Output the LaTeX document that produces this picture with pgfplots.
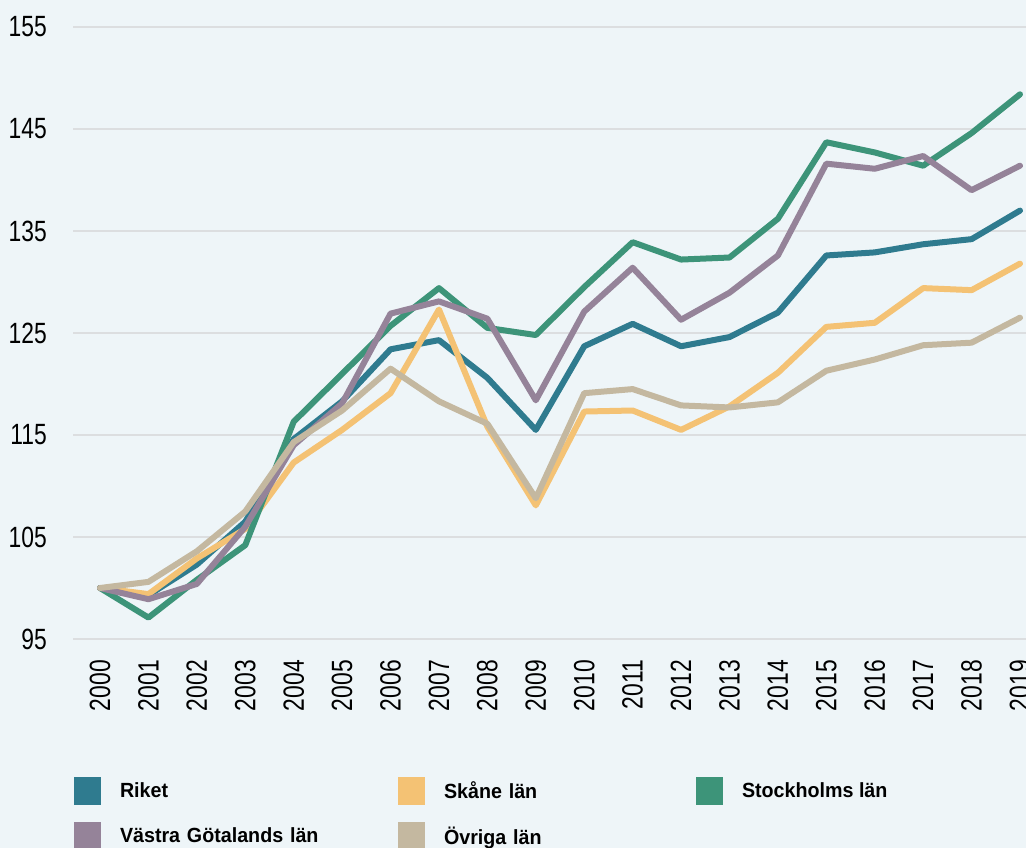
\documentclass[border=0pt]{standalone}
\usepackage{pgfplots}
\pgfplotsset{compat=1.18}
\usepackage{fontspec}
\setmainfont{Liberation Sans}
\newfontfamily\tickfont{Liberation Sans}[FakeStretch=0.78]
\newfontfamily\legfont{Liberation Sans}[FakeStretch=0.96]
\definecolor{bg}{HTML}{EEF5F8}
\definecolor{gridc}{HTML}{DCDEE0}
\definecolor{riket}{HTML}{2F7B8F}
\definecolor{skane}{HTML}{F4C274}
\definecolor{sthlm}{HTML}{3D9479}
\definecolor{vgl}{HTML}{958399}
\definecolor{ovr}{HTML}{C4B8A0}
\pgfplotstableread{
year riket skane sthlm vgl ovr
2000 100   100   100   100    100
2001 99.3  99.4  97.1  98.9   100.6
2002 102.3 102.9 100.8 100.4  103.6
2003 106.5 105.8 104.2 106.0  107.5
2004 114.6 112.3 116.3 114.0  114.3
2005 118.3 115.5 121.0 118.1  117.4
2006 123.4 119.1 125.7 126.9  121.5
2007 124.3 127.3 129.4 128.1  118.3
2008 120.6 115.8 125.5 126.4  116.1
2009 115.5 108.1 124.8 118.4  108.8
2010 123.7 117.3 129.5 127.1  119.1
2011 125.9 117.4 133.9 131.4  119.5
2012 123.7 115.5 132.2 126.3  117.9
2013 124.6 117.8 132.4 128.95 117.7
2014 127.0 121.1 136.2 132.6  118.2
2015 132.6 125.6 143.7 141.6  121.3
2016 132.9 126.0 142.7 141.1  122.4
2017 133.7 129.4 141.4 142.35 123.8
2018 134.2 129.2 144.6 139.0  124.05
2019 137.0 131.8 148.4 141.4  126.5
}\data
\begin{document}
\begin{tikzpicture}[x=1bp,y=1bp]
\fill[bg] (0,0) rectangle (1026,848);
\begin{axis}[
  at={(73bp,209bp)}, anchor=south west,
  scale only axis, width=953bp, height=612bp,
  xmin=1999.442, xmax=2019.124,
  ymin=95, ymax=155,
  ytick={95,105,...,155},
  xtick={2000,...,2019},
  axis line style={draw=none},
  major tick length=0pt,
  ymajorgrids, grid style={gridc, line width=2bp},
  /pgf/number format/assume math mode=true,
  /pgf/number format/set thousands separator={},
  tick label style={font=\tickfont\fontsize{29.3bp}{32bp}\selectfont, inner sep=0pt},
  yticklabel style={xshift=-26bp, anchor=east},
  xticklabel style={yshift=-21bp, rotate=90, anchor=east},
  clip=false,
  legend columns=3,
  legend cell align=left,
  legend style={at={(axis description cs:0.00105,-0.2255)}, anchor=north west,
    draw=none, fill=none, inner sep=0pt, outer sep=0pt,
    column sep=19bp, row sep=17bp,
    font=\legfont\bfseries\fontsize{20.5bp}{24bp}\selectfont,
    nodes={inner sep=0pt},
    /tikz/column 2/.style={text width=259bp, align=left},
    /tikz/column 4/.style={text width=233bp, align=left}},
  legend image code/.code={\fill[#1,draw=none] (0bp,-13.7bp) rectangle (27bp,14.3bp);},
  every axis plot/.append style={line width=6bp, line join=round, line cap=round, mark=none},
]
\addplot[riket] table[x=year,y=riket] {\data};
\addlegendentry{Riket}
\addplot[skane] table[x=year,y=skane] {\data};
\addlegendentry{Skåne län}
\addplot[sthlm] table[x=year,y=sthlm] {\data};
\addlegendentry{Stockholms län}
\addplot[vgl] table[x=year,y=vgl] {\data};
\addlegendentry{Västra Götalands län}
\addplot[ovr] table[x=year,y=ovr] {\data};
\addlegendentry{Övriga län}
\end{axis}
\pgfresetboundingbox
\path[use as bounding box] (0,0) rectangle (1026,848);
\end{tikzpicture}
\end{document}
